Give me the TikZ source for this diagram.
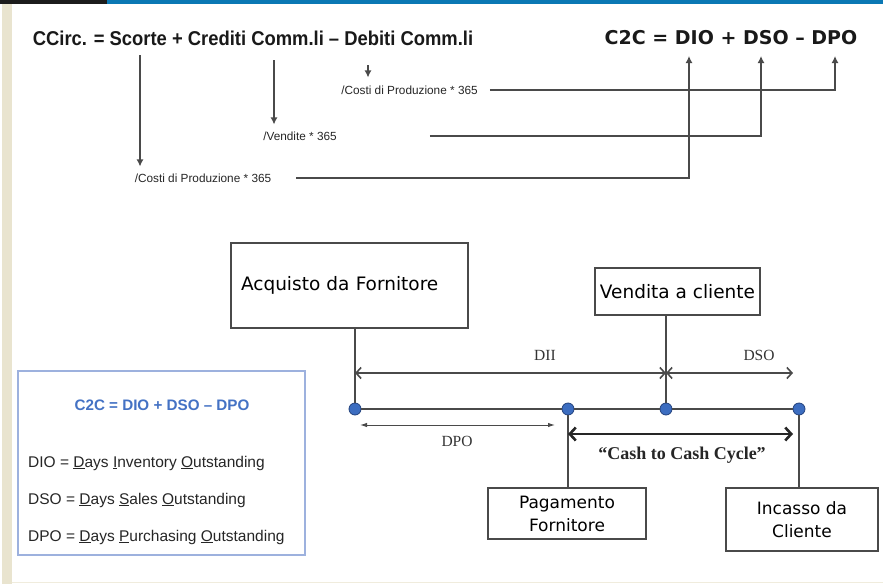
\documentclass[tikz,border=0pt]{standalone}
\usepackage{fontspec}
\setmainfont{Liberation Serif}
\newfontfamily\arialf{Liberation Sans}
\newfontfamily\narrowbf[FakeStretch=0.92]{Liberation Sans}
\newfontfamily\verdf{DejaVu Sans}
\usetikzlibrary{arrows.meta}
\definecolor{topdark}{HTML}{1C1C1C}
\definecolor{topblue}{HTML}{0A78B4}
\definecolor{beige}{HTML}{E9E4CF}
\definecolor{linegray}{HTML}{4A4A4A}
\definecolor{legblue}{HTML}{4472C4}
\definecolor{legborder}{HTML}{9DB1DE}
\definecolor{dotfill}{HTML}{3C6DC0}
\definecolor{dotdraw}{HTML}{23427E}
\tikzset{
  conn/.style={draw=linegray, line width=1.3pt},
  toparrow/.style={conn, -{Latex[length=7pt,width=7pt]}},
  smalllab/.style={font=\arialf\fontsize{11.8}{12}\selectfont, inner sep=0pt, text=black!85},
  evbox/.style={draw=linegray, line width=1.3pt, fill=white, font=\verdf\fontsize{18.5}{22}\selectfont, align=center, inner sep=0pt},
  tdot/.style={circle, fill=dotfill, draw=dotdraw, line width=0.8pt, minimum size=12pt, inner sep=0pt},
  tline/.style={conn, line width=1.6pt},
  barbs/.style={conn, line width=1.6pt, {Straight Barb[length=5pt,width=11pt]}-{Straight Barb[length=5pt,width=11pt]}},
  serlab/.style={font=\fontsize{15.5}{16}\selectfont, inner sep=0pt, text=black!80},
  legtext/.style={font=\arialf\fontsize{15.5}{16}\selectfont, inner sep=0pt, anchor=west, text=black!85}
}
\begin{document}
\begin{tikzpicture}[x=1pt,y=-1pt]
\useasboundingbox (0,0) rectangle (883,584);
\fill[white] (0,0) rectangle (883,584);
\fill[topdark] (0,0) rectangle (107,3.5);
\fill[topblue] (107,0) rectangle (883,3.5);
\fill[beige] (2,3.5) rectangle (12,584);
\draw[beige!70, line width=1pt] (12,582) -- (883,582);

% formulas
\node[font=\narrowbf\bfseries\fontsize{20}{20}\selectfont, inner sep=0pt, text=black!90] (ccirc) at (253,38) {CCirc. = Scorte + Crediti Comm.li – Debiti Comm.li};
\node[font=\verdf\bfseries\fontsize{19}{19}\selectfont, inner sep=0pt, text=black!90] (c2c) at (731,38) {C2C = DIO + DSO – DPO};

\coordinate (s1) at (140,55);
\coordinate (s2) at (274,60);
\coordinate (s3) at (368,65);
\coordinate (tDIO) at (689,56);
\coordinate (tDSO) at (761,56);
\coordinate (tDPO) at (835,56);

\node[smalllab] (lab1) at (203,178) {/Costi di Produzione * 365};
\node[smalllab] (lab2) at (300,136) {/Vendite * 365};
\node[smalllab] (lab3) at (409.5,90) {/Costi di Produzione * 365};

\draw[toparrow, shorten >=7pt] (s1) -- (s1 |- lab1.north);
\draw[toparrow, shorten >=7pt] (s2) -- (s2 |- lab2.north);
\draw[toparrow, shorten >=8pt] (s3) -- (s3 |- lab3.north);

\draw[toparrow] ([xshift=12pt]lab3.east) -| (tDPO);
\draw[toparrow] ([xshift=93pt]lab2.east) -| (tDSO);
\draw[toparrow] ([xshift=25pt]lab1.east) -| (tDIO);

% event boxes
\node[evbox, align=left, text width=217pt, inner xsep=10pt, minimum height=85pt] (acq) at (349.5,285.5) {Acquisto da Fornitore};
\node[evbox, minimum width=165pt, minimum height=47pt] (ven) at (677.5,291.5) {Vendita a cliente};
\node[evbox, font=\verdf\fontsize{17}{23}\selectfont, minimum width=158pt, minimum height=51pt] (pag) at (567,513.5) {Pagamento\\Fornitore};
\node[evbox, font=\verdf\fontsize{17}{23}\selectfont, minimum width=152pt, minimum height=63pt] (inc) at (802,519.5) {Incasso da\\Cliente};

% timeline
\node[tdot] (d1) at (355,409) {};
\node[tdot] (d2) at (568,409) {};
\node[tdot] (d3) at (666,409) {};
\node[tdot] (d4) at (799,409) {};
\draw[tline] (d1) -- (d2);
\draw[tline] (d2) -- (d3);
\draw[tline] (d3) -- (d4);
\draw[tline] (d1 |- acq.south) -- (d1);
\draw[tline] (d3 |- ven.south) -- (d3);
\draw[tline] (d2) -- (d2 |- pag.north);
\draw[tline] (d4) -- (d4 |- inc.north);

\coordinate (dsoend) at (793,373);
\draw[barbs] (d1 |- dsoend) -- (d3 |- dsoend);
\draw[barbs] (d3 |- dsoend) -- (dsoend);
\coordinate (dpoa) at (360,425);
\coordinate (dpob) at (555,425);
\draw[conn, line width=1pt, {Latex[length=7pt,width=4.5pt]}-{Latex[length=7pt,width=4.5pt]}] (dpoa) -- (dpob);
\coordinate (ccend) at (793,434);
\draw[conn, draw=black!85, line width=2.6pt, {Straight Barb[length=6pt,width=13pt]}-{Straight Barb[length=6pt,width=13pt]}] (d2 |- ccend) -- (ccend);

\node[serlab] (lDII) at (545,355) {DII};
\node[serlab] (lDSO) at (759,355) {DSO};
\node[serlab] (lDPO) at (457,441) {DPO};
\node[font=\bfseries\fontsize{18}{18}\selectfont, inner sep=0pt, text=black!85] (lcc) at (682,455) {“Cash to Cash Cycle”};

% legend
\node[draw=legborder, line width=1.2pt, minimum width=287pt, minimum height=184pt, inner sep=0pt] (leg) at (161.5,463) {};
\node[font=\arialf\bfseries\fontsize{15.2}{16}\selectfont, text=legblue, inner sep=0pt] (legt) at (162,405) {C2C = DIO + DSO – DPO};
\node[legtext] (l1) at (28,463) {DIO = \underline{D}ays \underline{I}nventory \underline{O}utstanding};
\node[legtext] (l2) at (28,500) {DSO = \underline{D}ays \underline{S}ales \underline{O}utstanding};
\node[legtext] (l3) at (28,537) {DPO = \underline{D}ays \underline{P}urchasing \underline{O}utstanding};
\end{tikzpicture}
\end{document}
